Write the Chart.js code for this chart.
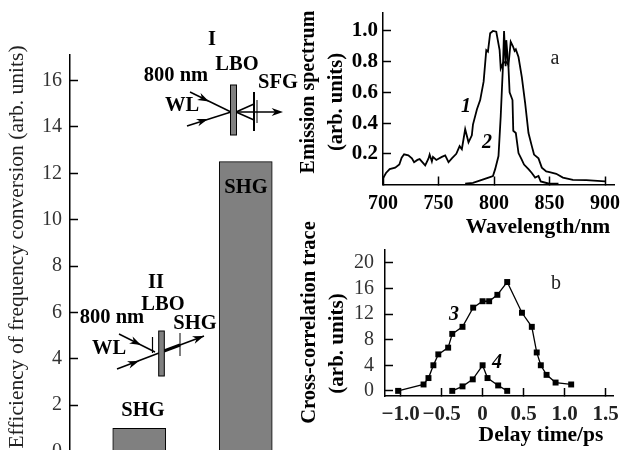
<!DOCTYPE html>
<html>
<head>
<meta charset="utf-8">
<style>
html, body { margin: 0; background: #fff; overflow: hidden; }
#page { position: relative; width: 624px; height: 450px; overflow: hidden; }
canvas { position: absolute; left: 0; top: 0; }
</style>
<script src="https://cdn.jsdelivr.net/npm/chart.js@4"></script>
</head>
<body>
<div id="page">
  <canvas id="barChart" width="624" height="480"></canvas>
  <canvas id="spectrumChart" width="624" height="480"></canvas>
  <canvas id="traceChart" width="624" height="480"></canvas>
</div>
<script>
// bars, left panel
const barPositions = [1, 2];
const barValues = [1, 12.5];
const barTicks = [0, 2, 4, 6, 8, 10, 12, 14, 16];

// panel a, curves 1 and 2
const wavelength1 = [700, 702.7, 706, 711, 714.7, 716.8, 719, 722.8, 726, 728, 731, 733, 738, 741, 742, 744, 745, 748, 753, 756, 759, 762, 766, 769, 771, 774, 777, 780, 781, 784.6, 787.5, 790.6, 793, 794.5, 796.5, 799, 802, 805, 806, 808, 810.6, 813, 815, 817, 818.5, 819.6, 822, 825, 828, 831, 834, 836, 840, 843, 847, 850, 856, 862, 871, 883, 900];
const emission1 = [0.04, 0.075, 0.1, 0.11, 0.13, 0.175, 0.197, 0.19, 0.17, 0.145, 0.16, 0.165, 0.125, 0.17, 0.195, 0.15, 0.18, 0.16, 0.18, 0.19, 0.145, 0.17, 0.2, 0.25, 0.23, 0.36, 0.275, 0.32, 0.39, 0.49, 0.55, 0.67, 0.875, 0.865, 0.985, 1, 0.995, 0.875, 0.755, 0.79, 0.8, 0.78, 0.93, 0.9, 0.87, 0.88, 0.83, 0.7, 0.53, 0.335, 0.25, 0.195, 0.17, 0.11, 0.085, 0.08, 0.07, 0.045, 0.03, 0.028, 0.02];
const wavelength2 = [774, 781, 789, 795, 799, 801, 804, 806, 808, 809, 810.4, 811, 813, 814, 816.6, 817.3, 819.6, 822, 824.7, 827, 831, 834, 837, 840, 842, 849.7, 858];
const emission2 = [0.005, 0.01, 0.03, 0.045, 0.055, 0.1, 0.185, 0.445, 0.77, 1, 0.77, 0.94, 0.76, 0.6, 0.55, 0.35, 0.335, 0.205, 0.165, 0.13, 0.1, 0.075, 0.045, 0.055, 0.02, 0.005, 0.005];
const spectrumXTicks = [700, 750, 800, 850, 900];
const spectrumYTicks = [0.2, 0.4, 0.6, 0.8, 1.0];

// panel b, curves 3 and 4
const delay3 = [-1.03, -0.72, -0.66, -0.6, -0.54, -0.42, -0.37, -0.245, -0.115, 0, 0.08, 0.18, 0.3, 0.48, 0.6, 0.66, 0.71, 0.78, 0.89, 1.08];
const trace3 = [0, 1, 2, 4, 5.7, 6.75, 8.9, 10, 13, 14, 14, 15, 17, 12.2, 10, 6, 4, 2.5, 1.3, 1];
const delay4 = [-0.37, -0.245, -0.12, 0, 0.06, 0.19, 0.3];
const trace4 = [0, 0.7, 1.8, 4, 2, 0.85, 0];
const traceXTicks = [-1, -0.5, 0, 0.5, 1, 1.5];
const traceYTicks = [0, 4, 8, 12, 16, 20];

const SERIF = '"Liberation Serif", serif';
const pairs = (xs, ys) => xs.map((x, i) => ({ x: x, y: ys[i] }));

function label(ctx, text, x, y, font, rotate, color) {
    ctx.save();
    ctx.translate(x, y);
    if (rotate) ctx.rotate(-Math.PI / 2);
    ctx.font = font;
    ctx.fillStyle = color || '#000';
    ctx.textAlign = 'center';
    ctx.textBaseline = 'middle';
    ctx.fillText(text, 0, 0);
    ctx.restore();
}

function line(ctx, x1, y1, x2, y2, w) {
    ctx.lineWidth = w || 1.5;
    ctx.beginPath();
    ctx.moveTo(x1, y1);
    ctx.lineTo(x2, y2);
    ctx.stroke();
}

// barbed arrow head pointing along (x1,y1)->(x2,y2), tip at x2,y2
function head(ctx, x1, y1, x2, y2) {
    const a = Math.atan2(y2 - y1, x2 - x1);
    ctx.fillStyle = '#000';
    ctx.beginPath();
    ctx.moveTo(x2, y2);
    ctx.lineTo(x2 - 12 * Math.cos(a - 0.33), y2 - 12 * Math.sin(a - 0.33));
    ctx.lineTo(x2 - 8 * Math.cos(a), y2 - 8 * Math.sin(a));
    ctx.lineTo(x2 - 12 * Math.cos(a + 0.33), y2 - 12 * Math.sin(a + 0.33));
    ctx.closePath();
    ctx.fill();
}

function crystal(ctx, x, y, w, h) {
    ctx.fillStyle = '#808080';
    ctx.strokeStyle = '#000';
    ctx.lineWidth = 1;
    ctx.fillRect(x, y, w, h);
    ctx.strokeRect(x, y, w, h);
}

const barNotes = {
    id: 'barNotes',
    afterDraw(chart) {
        const ctx = chart.ctx;
        const bold = 'bold 20.5px ' + SERIF;
        ctx.save();
        ctx.strokeStyle = '#000';

        label(ctx, 'Efficiency of frequency conversion (arb. units)', 17, 247, '21.5px ' + SERIF, true, '#222');
        label(ctx, 'SHG', 143, 411, bold);
        label(ctx, 'SHG', 246, 188, bold);

        // scheme I
        label(ctx, 'I', 212, 40, bold);
        label(ctx, 'LBO', 237, 65, bold);
        label(ctx, '800 nm', 176, 76, bold);
        label(ctx, 'SFG', 278, 83, bold);
        label(ctx, 'WL', 182, 106, bold);
        line(ctx, 190, 92, 231, 112);
        head(ctx, 190, 92, 209, 101.5);
        line(ctx, 187, 126, 231, 112);
        head(ctx, 187, 126, 208, 119);
        line(ctx, 236, 112, 278, 112);
        head(ctx, 236, 112, 283, 112);
        line(ctx, 236, 112, 254, 104);
        line(ctx, 236, 112, 254, 120);
        line(ctx, 254, 92, 254, 131, 2);
        line(ctx, 257, 100, 257, 123, 1);
        crystal(ctx, 230.5, 85, 6, 50);

        // scheme II
        label(ctx, 'II', 156, 283, bold);
        label(ctx, 'LBO', 163, 305, bold);
        label(ctx, '800 nm', 112, 318, bold);
        label(ctx, 'SHG', 195, 324, bold);
        label(ctx, 'WL', 109, 349, bold);
        line(ctx, 119, 334, 155, 352);
        head(ctx, 119, 334, 141, 345);
        line(ctx, 117, 369, 159, 353);
        head(ctx, 117, 369, 139, 361);
        line(ctx, 164, 351, 204, 336);
        line(ctx, 164, 351, 180, 345, 3);
        head(ctx, 164, 351, 204, 336);
        line(ctx, 152.5, 337, 152.5, 353, 1.2);
        line(ctx, 180, 333, 180, 356, 1);
        crystal(ctx, 158.7, 331, 5.6, 45);
        ctx.restore();
    }
};

const spectrumNotes = {
    id: 'spectrumNotes',
    afterDraw(chart) {
        const ctx = chart.ctx;
        label(ctx, 'Emission spectrum', 309, 92, 'bold 20px ' + SERIF, true);
        label(ctx, '(arb. units)', 337, 102, 'bold 20.5px ' + SERIF, true);
        label(ctx, 'Wavelength/nm', 538, 227, 'bold 21.5px ' + SERIF);
        label(ctx, '1', 466, 107, 'italic bold 20px ' + SERIF);
        label(ctx, '2', 487, 143, 'italic bold 20px ' + SERIF);
        label(ctx, 'a', 555, 59, '20px ' + SERIF, false, '#222');
    }
};

const traceNotes = {
    id: 'traceNotes',
    afterDraw(chart) {
        const ctx = chart.ctx;
        label(ctx, 'Cross-correlation trace', 310, 322.5, 'bold 20.5px ' + SERIF, true);
        label(ctx, '(arb. units)', 338, 343.5, 'bold 21px ' + SERIF, true);
        label(ctx, 'Delay time/ps', 541, 435, 'bold 21.5px ' + SERIF);
        label(ctx, '3', 454, 315, 'italic bold 20px ' + SERIF);
        label(ctx, '4', 497, 363, 'italic bold 20px ' + SERIF);
        label(ctx, 'b', 556, 284, '20px ' + SERIF, false, '#222');
    }
};

// ticks point into the plot. Each scale gets a fixed box (labels are clipped to it)
// and no overhang padding, so layout.padding sets the plot box exactly
function axis(position, min, max, values, room, font, color, pad, format) {
    return {
        type: 'linear',
        position: position,
        min: min,
        max: max,
        afterBuildTicks: s => { s.ticks = values.map(v => ({ value: v })); },
        afterFit: s => {
            if (position === 'left') s.width = room; else s.height = room;
            s.paddingLeft = s.paddingRight = s.paddingTop = s.paddingBottom = 0;
        },
        border: { color: '#000', width: 1.5 },
        grid: { drawOnChartArea: false, tickLength: -8, tickColor: '#000', tickWidth: 1.5 },
        ticks: {
            autoSkip: false,
            maxRotation: 0,
            padding: pad,
            color: color,
            font: font,
            callback: format
        }
    };
}

const base = {
    responsive: false,
    animation: false,
    devicePixelRatio: 1,
    plugins: { legend: { display: false }, tooltip: { enabled: false } }
};

new Chart(document.getElementById('barChart'), {
    type: 'bar',
    data: {
        datasets: [{
            data: pairs(barPositions, barValues),
            barThickness: 53,
            backgroundColor: '#808080',
            borderColor: '#000',
            borderWidth: 1
        }]
    },
    options: {
        ...base,
        layout: { padding: { left: 0, right: 325, top: 55, bottom: 28.5 } },
        scales: {
            x: { type: 'linear', offset: false, min: 0.35, max: 2.5, display: false },
            y: axis('left', 0, 17.1, barTicks, 70, { family: SERIF, size: 20 }, '#333', 16, v => String(v))
        }
    },
    plugins: [barNotes]
});

function curve(xs, ys) {
    return { data: pairs(xs, ys), showLine: true, borderColor: '#000', borderWidth: 1.8, pointRadius: 0, tension: 0 };
}

new Chart(document.getElementById('spectrumChart'), {
    type: 'scatter',
    data: { datasets: [curve(wavelength1, emission1), curve(wavelength2, emission2)] },
    options: {
        ...base,
        layout: { padding: { left: 323, right: 10, top: 13, bottom: 255.5 } },
        scales: {
            x: axis('bottom', 700, 908, spectrumXTicks, 40, { family: SERIF, size: 20, weight: 'bold' }, '#000', 15, v => String(v)),
            y: axis('left', 0, 1.117, spectrumYTicks, 60, { family: SERIF, size: 21, weight: 'bold' }, '#000', 13, v => v.toFixed(1))
        }
    },
    plugins: [spectrumNotes]
});

function markers(xs, ys) {
    return {
        data: pairs(xs, ys),
        showLine: true,
        borderColor: '#000',
        borderWidth: 1.3,
        pointStyle: 'rect',
        pointRadius: 4.2,
        pointBackgroundColor: '#000',
        pointBorderWidth: 0,
        tension: 0
    };
}

new Chart(document.getElementById('traceChart'), {
    type: 'scatter',
    data: { datasets: [markers(delay3, trace3), markers(delay4, trace4)] },
    options: {
        ...base,
        layout: { padding: { left: 325, right: 11, top: 250, bottom: 44 } },
        scales: {
            x: axis('bottom', -1.19, 1.59, traceXTicks, 40, { family: SERIF, size: 21, weight: 'bold' }, '#222', 14,
                v => (v === 0 ? '0' : (v < 0 ? '\u2212' : '') + Math.abs(v).toFixed(1))),
            y: axis('left', -0.8, 22, traceYTicks, 60, { family: SERIF, size: 20 }, '#333', 19, v => String(v))
        }
    },
    plugins: [traceNotes]
});
</script>
</body>
</html>
